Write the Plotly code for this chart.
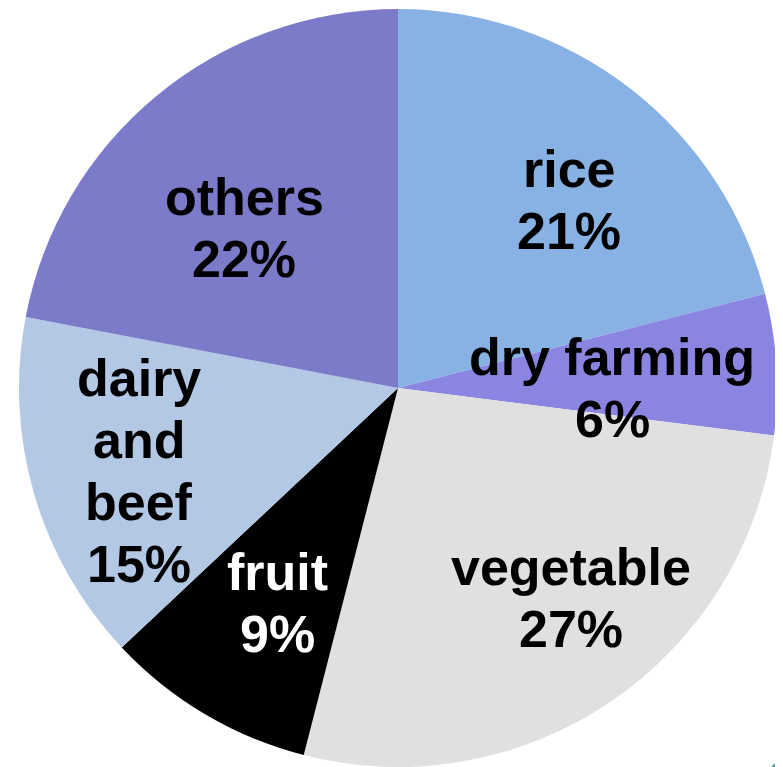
import plotly.graph_objects as go

categories = ["rice", "dry farming", "vegetable", "fruit", "dairy and beef", "others"]
label_lines = [["rice"], ["dry farming"], ["vegetable"], ["fruit"], ["dairy", "and", "beef"], ["others"]]
values = [21, 6, 27, 9, 15, 22]

colors = ["#87B2E3", "#8985E0", "#E0E0E0", "#000000", "#B2C8E4", "#7B7BCA"]
font_colors = ["black", "black", "black", "white", "black", "black"]

W, H = 783, 767
OFF = 8  # page body margin offset
LINE_GAP = 62
# label block centres in screen pixels (text placement, not marks)
label_px = [(569, 200), (612, 388), (571, 598), (277, 603), (139, 471), (244, 228)]

fig = go.Figure()
fig.add_trace(go.Pie(
    labels=categories,
    values=values,
    sort=False,
    direction="clockwise",
    rotation=0,
    marker=dict(colors=colors, line=dict(width=0)),
    textinfo="none",
    hoverinfo="label+percent",
    showlegend=False,
    domain=dict(x=[(19 - OFF) / W, (777 - OFF) / W], y=[OFF / H, (OFF + 758) / H]),
))

for lines, v, (px, py), fc in zip(label_lines, values, label_px, font_colors):
    all_lines = lines + [f"{v}%"]
    n = len(all_lines)
    for i, line in enumerate(all_lines):
        ly = py + (i - (n - 1) / 2) * LINE_GAP
        fig.add_annotation(
            x=(px - OFF) / W, y=1 - (ly - OFF) / H, xref="paper", yref="paper",
            text=f"<b>{line}</b>", showarrow=False,
            xanchor="center", yanchor="middle", align="center",
            font=dict(family="Liberation Sans, Arial, sans-serif", size=52, color=fc),
        )

# decorative corner triangle
x0 = (771 - OFF) / W
x1 = (783 - OFF) / W
y0 = OFF / H
y1 = (OFF + 12) / H
fig.add_shape(
    type="path", xref="paper", yref="paper",
    path=f"M {x0} {y0} L {x1} {y0} L {x1} {y1} Z",
    fillcolor="#5F9EA0", line=dict(width=0),
)

fig.update_layout(
    width=W, height=H,
    margin=dict(l=0, r=0, t=0, b=0),
    paper_bgcolor="white", plot_bgcolor="white",
    font=dict(family="Liberation Sans, Arial, sans-serif"),
)

fig.write_html("out.html")
